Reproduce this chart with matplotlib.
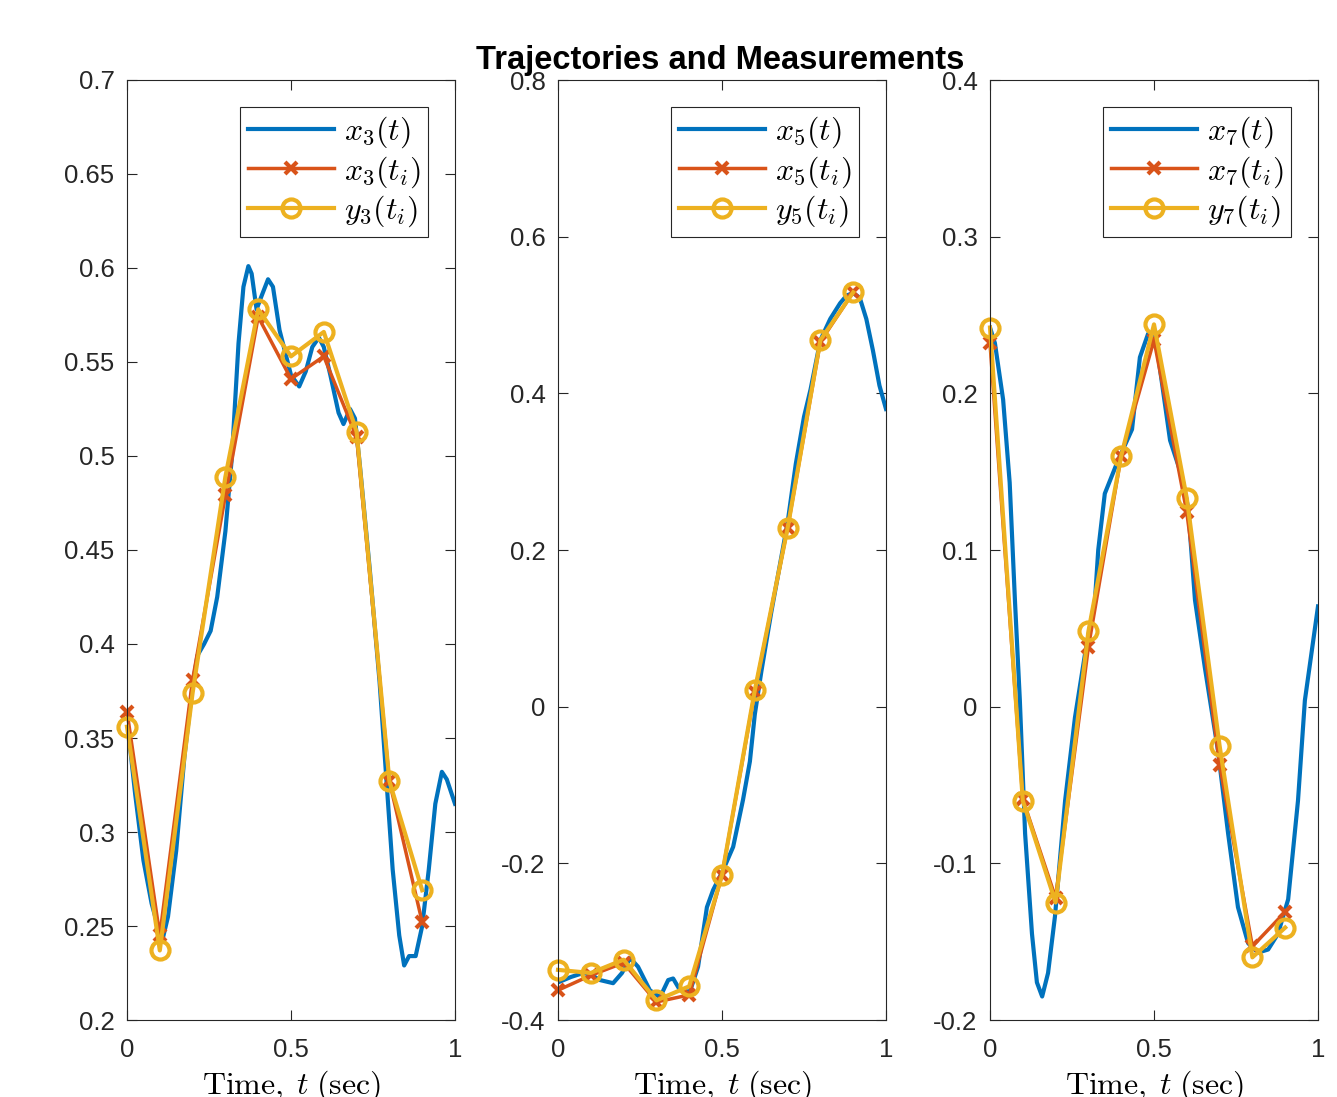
import matplotlib
matplotlib.use('Agg')
import matplotlib.pyplot as plt
import numpy as np

plt.rcParams['font.family'] = ['Liberation Sans', 'DejaVu Sans']
plt.rcParams['mathtext.fontset'] = 'cm'
plt.rcParams['axes.unicode_minus'] = False

# sample times of the measurements
t_i = [0.0, 0.1, 0.2, 0.3, 0.4, 0.5, 0.6, 0.7, 0.8, 0.9]

# state 3
t3 = [0.0, 0.025, 0.05, 0.075, 0.1, 0.11, 0.125, 0.15, 0.175, 0.2, 0.215, 0.235, 0.255, 0.275,
      0.3, 0.32, 0.34, 0.355, 0.37, 0.38, 0.395, 0.41, 0.43, 0.445, 0.465, 0.5, 0.525, 0.545,
      0.565, 0.585, 0.6, 0.62, 0.645, 0.66, 0.68, 0.695, 0.71, 0.74, 0.77, 0.79, 0.81, 0.83,
      0.845, 0.86, 0.88, 0.9, 0.92, 0.94, 0.96, 0.975, 1.0]
x3 = [0.36, 0.32, 0.285, 0.262, 0.246, 0.244, 0.255, 0.29, 0.34, 0.378, 0.394, 0.400, 0.407, 0.425,
      0.46, 0.5, 0.56, 0.59, 0.601, 0.597, 0.578, 0.585, 0.594, 0.59, 0.567, 0.543, 0.537, 0.545,
      0.558, 0.563, 0.558, 0.543, 0.523, 0.517, 0.525, 0.52, 0.495, 0.44, 0.38, 0.33, 0.28, 0.245,
      0.229, 0.234, 0.234, 0.25, 0.28, 0.315, 0.332, 0.328, 0.315]
x3_i = [0.364, 0.245, 0.381, 0.479, 0.574, 0.541, 0.553, 0.510, 0.327, 0.252]
y3_i = [0.356, 0.237, 0.374, 0.489, 0.578, 0.553, 0.566, 0.513, 0.327, 0.269]

# state 5
t5 = [0.0, 0.04, 0.077, 0.1, 0.128, 0.168, 0.195, 0.22, 0.244, 0.28, 0.311, 0.336, 0.351, 0.372,
      0.402, 0.427, 0.454, 0.473, 0.503, 0.534, 0.564, 0.585, 0.6, 0.62, 0.65, 0.7, 0.725, 0.75,
      0.77, 0.8, 0.83, 0.86, 0.88, 0.9, 0.92, 0.94, 0.96, 0.98, 1.0]
x5 = [-0.352, -0.345, -0.34, -0.342, -0.349, -0.353, -0.34, -0.321, -0.332, -0.362, -0.371, -0.349,
      -0.347, -0.362, -0.364, -0.332, -0.256, -0.234, -0.209, -0.179, -0.119, -0.07, -0.01, 0.045,
      0.12, 0.235, 0.31, 0.37, 0.405, 0.468, 0.495, 0.515, 0.525, 0.528, 0.522, 0.495, 0.455, 0.41, 0.38]
x5_i = [-0.362, -0.343, -0.327, -0.377, -0.368, -0.215, 0.019, 0.228, 0.466, 0.529]
y5_i = [-0.336, -0.340, -0.323, -0.375, -0.357, -0.215, 0.021, 0.228, 0.468, 0.529]

# state 7
t7 = [0.0, 0.015, 0.04, 0.06, 0.076, 0.091, 0.107, 0.128, 0.143, 0.159, 0.177, 0.198, 0.229,
      0.259, 0.29, 0.32, 0.33, 0.35, 0.39, 0.433, 0.457, 0.482, 0.503, 0.524, 0.549, 0.585, 0.604,
      0.625, 0.655, 0.695, 0.726, 0.756, 0.787, 0.817, 0.848, 0.878, 0.909, 0.939, 0.96, 1.0]
x7 = [0.242, 0.232, 0.196, 0.143, 0.068, 0.004, -0.081, -0.145, -0.176, -0.185, -0.17, -0.134,
      -0.06, -0.007, 0.034, 0.068, 0.1, 0.136, 0.157, 0.177, 0.223, 0.238, 0.238, 0.207, 0.17,
      0.147, 0.127, 0.068, 0.025, -0.028, -0.081, -0.128, -0.151, -0.157, -0.155, -0.145, -0.123,
      -0.06, 0.004, 0.064]
x7_i = [0.232, -0.059, -0.122, 0.038, 0.160, 0.234, 0.124, -0.037, -0.153, -0.131]
y7_i = [0.242, -0.060, -0.125, 0.048, 0.160, 0.244, 0.133, -0.025, -0.160, -0.141]

panels = [
    (3, t3, x3, x3_i, y3_i, (0.2, 0.7), [0.2, 0.25, 0.3, 0.35, 0.4, 0.45, 0.5, 0.55, 0.6, 0.65, 0.7]),
    (5, t5, x5, x5_i, y5_i, (-0.4, 0.8), [-0.4, -0.2, 0, 0.2, 0.4, 0.6, 0.8]),
    (7, t7, x7, x7_i, y7_i, (-0.2, 0.4), [-0.2, -0.1, 0, 0.1, 0.2, 0.3, 0.4]),
]

blue = '#0072BD'
red = '#D95319'
yellow = '#EDB120'
axcol = '#262626'

W, H = 1337, 1097
fig = plt.figure(figsize=(W / 100, H / 100), dpi=100)
lefts = [127, 558, 990]

for left, (k, tf, xf, xi, yi, ylim, yt) in zip(lefts, panels):
    ax = fig.add_axes([left / W, (H - 1020) / H, 328 / W, 940 / H])
    ax.plot(tf, xf, color=blue, lw=3, label=r'$x_%d(t)$' % k)
    ax.plot(t_i, xi, color=red, lw=2.5, marker='x', ms=8, mew=3,
            label=r'$x_%d(t_i)$' % k, clip_on=False)
    ax.plot(t_i, yi, color=yellow, lw=3, marker='o', ms=13, mew=3, mfc='none',
            label=r'$y_%d(t_i)$' % k, clip_on=False)
    ax.set_xlim(0, 1)
    ax.set_ylim(*ylim)
    ax.set_xticks([0, 0.5, 1])
    ax.set_xticklabels(['0', '0.5', '1'])
    ax.set_yticks(yt)
    ax.set_yticklabels(['%g' % v for v in yt])
    ax.tick_params(direction='in', length=7, width=0.8, colors=axcol, labelsize=18.5,
                   top=True, right=True)
    ax.tick_params(axis='x', pad=13)
    ax.tick_params(axis='y', pad=9)
    for s in ax.spines.values():
        s.set_color(axcol)
        s.set_linewidth(0.8)
    ax.set_xlabel(r'$\mathrm{Time,}\; t\; \mathrm{(sec)}$', fontsize=23, labelpad=5)
    leg = ax.legend(loc='upper right', bbox_to_anchor=(1 - 27 / 328, 1 - 27 / 940),
                    borderaxespad=0, fontsize=23, fancybox=False, framealpha=1,
                    edgecolor=axcol, handlelength=2.7, labelspacing=0.12,
                    handletextpad=0.3, borderpad=0.25)
    leg.get_frame().set_linewidth(0.8)

fig.text(720 / W, 1 - 60 / H, 'Trajectories and Measurements', ha='center', va='center',
         fontsize=23.5, fontweight='bold')

fig.savefig('out.png', dpi=100)
